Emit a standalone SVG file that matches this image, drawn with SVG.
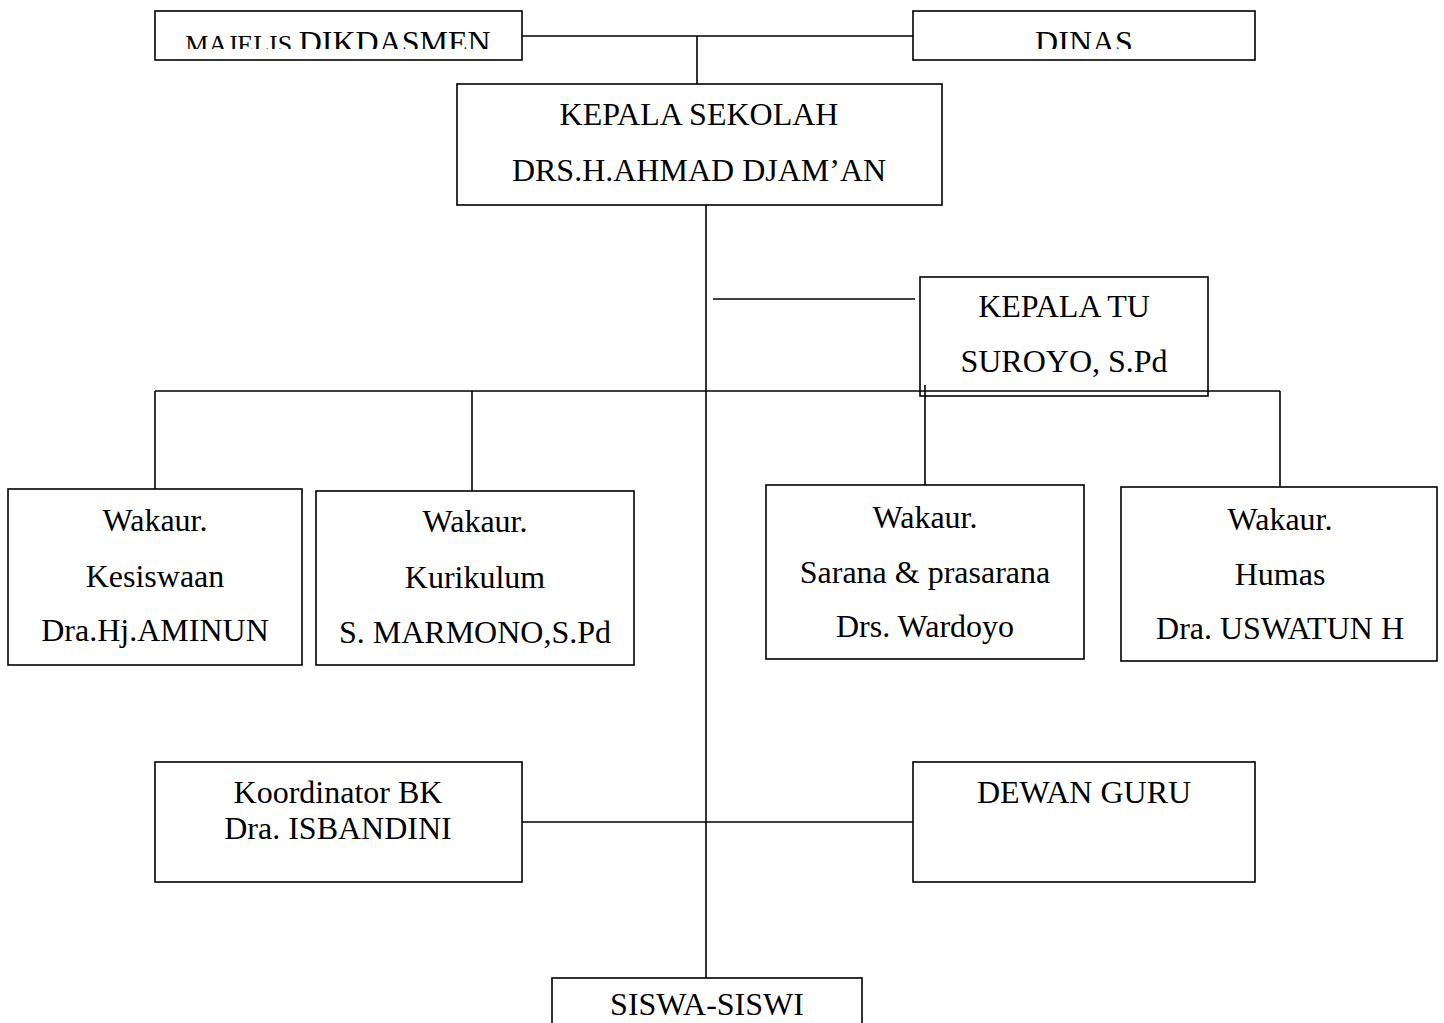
<svg xmlns="http://www.w3.org/2000/svg" width="1444" height="1023" viewBox="0 0 1444 1023">
<style>
.box{fill:#fff;stroke:#000;stroke-width:1.6}
.ln{stroke:#000;stroke-width:1.6;fill:none}
text{font-family:"Liberation Serif","Times New Roman",serif;font-size:32px;fill:#000;text-anchor:middle}
</style>
<defs>
<clipPath id="topclip"><rect x="0" y="11" width="1444" height="38"/></clipPath>
</defs>
<rect width="1444" height="1023" fill="#fff"/>
<g id="majelis">
<rect class="box" x="155" y="11" width="367" height="49"/>
<text x="338" y="53" clip-path="url(#topclip)"><tspan font-size="26px">MAJELIS </tspan>DIKDASMEN</text>
</g>
<g id="dinas">
<rect class="box" x="913" y="11" width="342" height="49"/>
<text x="1084" y="53" clip-path="url(#topclip)">DINAS</text>
</g>
<g id="kepala-sekolah">
<rect class="box" x="457" y="84" width="485" height="121"/>
<text x="699" y="125">KEPALA SEKOLAH</text>
<text x="699" y="181">DRS.H.AHMAD DJAM’AN</text>
</g>
<g id="kepala-tu">
<rect class="box" x="920" y="277" width="288" height="119"/>
<text x="1064" y="317">KEPALA TU</text>
<text x="1064" y="372">SUROYO, S.Pd</text>
</g>
<g id="kesiswaan">
<rect class="box" x="8" y="489" width="294" height="176"/>
<text x="155" y="531">Wakaur.</text>
<text x="155" y="587">Kesiswaan</text>
<text x="155" y="641">Dra.Hj.AMINUN</text>
</g>
<g id="kurikulum">
<rect class="box" x="316" y="491" width="318" height="174"/>
<text x="475" y="532">Wakaur.</text>
<text x="475" y="588">Kurikulum</text>
<text x="475" y="643">S. MARMONO,S.Pd</text>
</g>
<g id="sarana">
<rect class="box" x="766" y="485" width="318" height="174"/>
<text x="925" y="528">Wakaur.</text>
<text x="925" y="583">Sarana &amp; prasarana</text>
<text x="925" y="637">Drs. Wardoyo</text>
</g>
<g id="humas">
<rect class="box" x="1121" y="487" width="316" height="174"/>
<text x="1280" y="530">Wakaur.</text>
<text x="1280" y="585">Humas</text>
<text x="1280" y="639">Dra. USWATUN H</text>
</g>
<g id="koordinator-bk">
<rect class="box" x="155" y="762" width="367" height="120"/>
<text x="338" y="803">Koordinator BK</text>
<text x="338" y="839">Dra. ISBANDINI</text>
</g>
<g id="dewan-guru">
<rect class="box" x="913" y="762" width="342" height="120"/>
<text x="1084" y="803">DEWAN GURU</text>
</g>
<g id="siswa">
<rect class="box" x="552" y="978" width="310" height="60"/>
<text x="707" y="1015">SISWA-SISWI</text>
</g>
<g id="connectors">
<line class="ln" x1="522" y1="36" x2="913" y2="36"/>
<line class="ln" x1="697" y1="36" x2="697" y2="84"/>
<line class="ln" x1="706" y1="205" x2="706" y2="978"/>
<line class="ln" x1="713" y1="299" x2="915" y2="299"/>
<line class="ln" x1="155" y1="391" x2="1280" y2="391"/>
<line class="ln" x1="155" y1="391" x2="155" y2="489"/>
<line class="ln" x1="472" y1="391" x2="472" y2="491"/>
<line class="ln" x1="925" y1="385" x2="925" y2="485"/>
<line class="ln" x1="1280" y1="391" x2="1280" y2="487"/>
<line class="ln" x1="522" y1="822" x2="913" y2="822"/>
</g>
</svg>
